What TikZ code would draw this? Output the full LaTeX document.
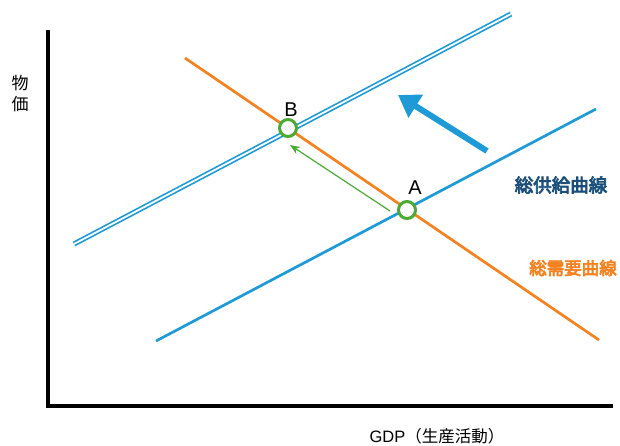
\documentclass[tikz,border=0pt]{standalone}
\usepackage{fontspec}
\setmainfont{Liberation Sans}
\newfontfamily\cjk{Noto Sans CJK JP}
\newfontfamily\cjkb[FakeBold=4]{Noto Sans CJK JP}
\usetikzlibrary{arrows.meta}
\definecolor{supblue}{HTML}{1E9BD7}
\definecolor{demorange}{HTML}{F58220}
\definecolor{ptgreen}{HTML}{4BAA34}
\definecolor{lbldark}{HTML}{1B4F7A}
\tikzset{
  axis/.style={line width=3.2pt, black},
  curve/.style={line width=2.7pt},
  pt/.style={circle, draw=ptgreen, fill=white, line width=3pt, minimum size=17pt, inner sep=0pt},
  lbl/.style={font=\fontsize{20}{20}\selectfont, inner sep=0pt}
}
\begin{document}
\begin{tikzpicture}[x=1pt,y=-1pt]
\useasboundingbox (0,0) rectangle (620,445);
% axes
\coordinate (top) at (48,30);
\coordinate (orig) at (48,406);
\coordinate (xend) at (613,406);
\draw[axis] (top) -- (orig) -- (xend);
% curves
\coordinate (s1a) at (156,341);
\coordinate (s1b) at (596,109);
\coordinate (s2a) at (74,244);
\coordinate (s2b) at (511,14);
\coordinate (d1) at (185,58);
\coordinate (d2) at (599,340);
\draw[curve, demorange] (d1) -- (d2);
\draw[curve, supblue] (s1a) -- (s1b);
\draw[supblue, line width=1.7pt, double=white, double distance=1.8pt] (s2a) -- (s2b);
% points
\node[pt] (A) at (407,210) {};
\node[pt] (B) at (288,128) {};
\node[lbl, anchor=south] (Alab) at (415,195) {A};
\node[lbl, anchor=south] (Blab) at (291,117) {B};
% shift arrow
\coordinate (ga) at (390,211);
\coordinate (gb) at (290,145);
\draw[ptgreen, line width=1.2pt, -{Stealth[length=10pt,width=8pt]}] (ga) -- (gb);
\coordinate (ba) at (487,151);
\coordinate (bb) at (398,95);
\draw[supblue, line width=6pt, -{Triangle[length=21pt,width=26pt]}] (ba) -- (bb);
% labels
\node[font=\cjkb\fontsize{18.5}{18.5}\selectfont, text=lbldark, inner sep=0pt] (slab) at (561,185) {総供給曲線};
\node[font=\cjkb\fontsize{17.5}{17.5}\selectfont, text=demorange, inner sep=0pt] (dlab) at (573,268) {総需要曲線};
\node[font=\cjk\fontsize{17}{21}\selectfont, align=center, inner sep=0pt] (ylab) at (20,94) {物\\価};
\node[font=\fontsize{16.5}{16.5}\selectfont, inner sep=0pt] (xlab) at (437,436) {GDP{\cjk（生産活動）}};
\end{tikzpicture}
\end{document}
